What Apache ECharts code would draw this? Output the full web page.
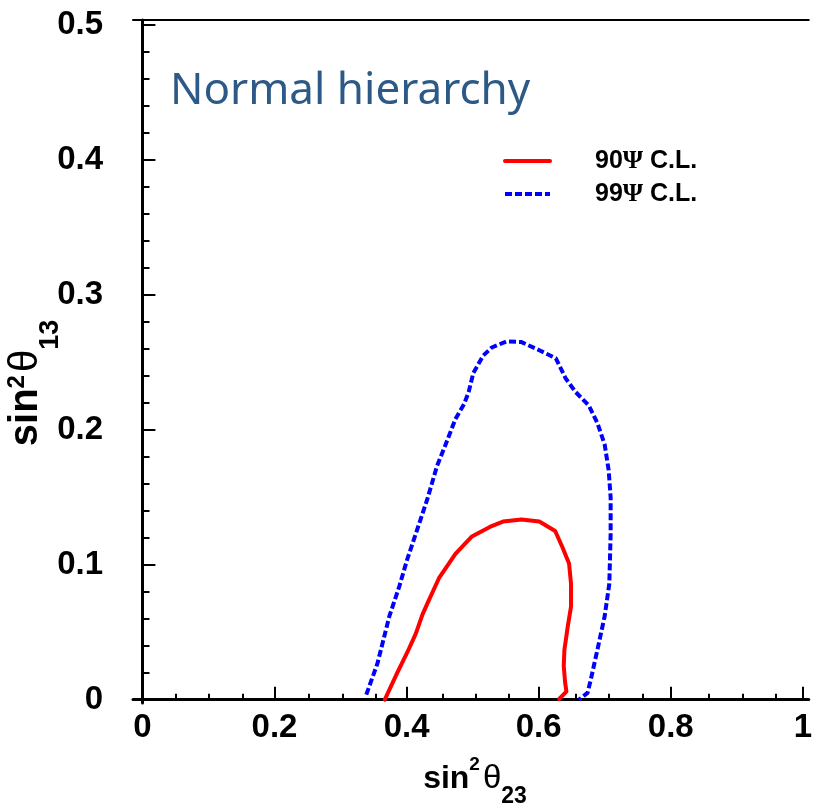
<!DOCTYPE html>
<html>
<head>
<meta charset="utf-8">
<script src="https://cdn.jsdelivr.net/npm/echarts@6/dist/echarts.min.js"></script>
<style>
html,body{margin:0;padding:0;background:#fff;}
#chart{width:815px;height:806px;}
</style>
</head>
<body>
<div id="chart"></div>
<script>
// ---- data ----
const cl90_x = [0.367,0.386,0.401,0.414,0.424,0.434,0.449,0.474,0.499,0.526,0.546,0.574,0.601,0.625,0.636,0.646,0.649,0.649,0.644,0.639,0.638,0.640,0.642,0.631];
const cl90_y = [0.000,0.020,0.035,0.049,0.063,0.074,0.090,0.108,0.121,0.128,0.132,0.1336,0.132,0.125,0.113,0.101,0.086,0.069,0.054,0.037,0.025,0.013,0.006,0.0005];
const cl99_x = [0.339,0.356,0.374,0.389,0.401,0.414,0.431,0.446,0.459,0.474,0.487,0.494,0.501,0.516,0.529,0.551,0.574,0.601,0.626,0.641,0.656,0.676,0.689,0.700,0.706,0.709,0.709,0.709,0.707,0.700,0.689,0.679,0.674,0.661];
const cl99_y = [0.0037,0.027,0.062,0.084,0.104,0.123,0.148,0.173,0.189,0.208,0.219,0.228,0.242,0.255,0.261,0.2655,0.265,0.259,0.253,0.238,0.228,0.218,0.205,0.189,0.170,0.150,0.128,0.123,0.086,0.062,0.037,0.015,0.005,0.000];
const seriesNames = ['90\u03A8 C.L.', '99\u03A8 C.L.'];
const xMajorTicks = [0, 0.2, 0.4, 0.6, 0.8, 1];
const xMinorTicks = [0.05,0.1,0.15,0.25,0.3,0.35,0.45,0.5,0.55,0.65,0.7,0.75,0.85,0.9,0.95];
const yMajorTicks = [0, 0.1, 0.2, 0.3, 0.4, 0.5];
const yMinorTicks = [0.02,0.04,0.06,0.08,0.12,0.14,0.16,0.18,0.22,0.24,0.26,0.28,0.32,0.34,0.36,0.38,0.42,0.44,0.46,0.48];
const panelLabel = 'Normal hierarchy';
const xTitleParts = ['sin', '2', '\u03B8', '23'];
const yTitleParts = ['sin', '2', '\u03B8', '13'];

const X_MIN = -0.01425, X_MAX = 1.009;
const Y_MIN = -0.00245, Y_MAX = 0.5037;

function pairs(xs, ys){ return xs.map((x,i)=>[x, ys[i]]); }

// build a "sin^2 theta_ij" label from separate text pieces laid end to end
const measureCtx = document.createElement('canvas').getContext('2d');
const MID = 0.3465; // distance of the 'middle' text baseline above the alphabetic baseline, in em
function mathLabel(parts, fmt){
  let cursor = 0;
  const items = parts.map((t, i) => {
    const f = fmt[i];
    measureCtx.font = f.weight + ' ' + f.size + 'px "Liberation Sans"';
    const w = measureCtx.measureText(t).width;
    const it = {t, f, x: cursor + (f.gap || 0)};
    cursor = it.x + w;
    return it;
  });
  const W = cursor;
  return items.map(it => ({
    type:'text', silent:true,
    x: it.x - W/2, y: it.f.dy - MID * it.f.size,
    style:{text:it.t, fontFamily:'Liberation Sans', fontWeight:it.f.weight, fontSize:it.f.size,
           fill:'#000', align:'left', verticalAlign:'middle'}
  }));
}

const chart = echarts.init(document.getElementById('chart'), null, {renderer:'canvas'});
const GRID = {left:133, top:20, right:0, bottom:103};
const labelFont = {fontFamily:'Liberation Sans', fontWeight:'bold', fontSize:33, color:'#000'};

const option = {
  backgroundColor:'#fff',
  animation:false,
  grid:[Object.assign({}, GRID), Object.assign({}, GRID)],
  xAxis:[
    {type:'value', gridIndex:0, position:'bottom', min:X_MIN, max:X_MAX,
     axisLine:{show:true, lineStyle:{color:'#000', width:3}},
     axisTick:{show:true, inside:true, length:13, customValues:xMajorTicks, lineStyle:{color:'#000', width:2}},
     axisLabel:Object.assign({show:true, customValues:xMajorTicks, margin:8}, labelFont),
     splitLine:{show:false}},
    {type:'value', gridIndex:0, position:'top', min:X_MIN, max:X_MAX,
     axisLine:{show:true, lineStyle:{color:'#000', width:2}},
     axisTick:{show:false}, axisLabel:{show:false}, splitLine:{show:false}},
    {type:'value', gridIndex:1, position:'bottom', min:X_MIN, max:X_MAX,
     axisLine:{show:false},
     axisTick:{show:true, inside:true, length:6, customValues:xMinorTicks, lineStyle:{color:'#000', width:2}},
     axisLabel:{show:false}, splitLine:{show:false}}
  ],
  yAxis:[
    {type:'value', gridIndex:0, position:'left', min:Y_MIN, max:Y_MAX,
     axisLine:{show:true, lineStyle:{color:'#000', width:3}},
     axisTick:{show:true, inside:true, length:13, customValues:yMajorTicks, lineStyle:{color:'#000', width:2}},
     axisLabel:Object.assign({show:true, customValues:yMajorTicks, margin:30}, labelFont),
     splitLine:{show:false}},
    {type:'value', gridIndex:1, position:'left', min:Y_MIN, max:Y_MAX,
     axisLine:{show:false},
     axisTick:{show:true, inside:true, length:7, customValues:yMinorTicks, lineStyle:{color:'#000', width:2}},
     axisLabel:{show:false}, splitLine:{show:false}}
  ],
  legend:{
    orient:'vertical', left:498, top:143, itemWidth:45, itemHeight:14, itemGap:7,
    data:seriesNames,
    itemStyle:{opacity:0},
    lineStyle:{width:4},
    formatter:function(name){ return name.replace('\u03A8','{p|\u03A8}'); },
    textStyle:{fontFamily:'Liberation Sans', fontWeight:'bold', fontSize:25, color:'#000', padding:[0,0,0,40],
      rich:{p:{fontFamily:'Liberation Serif', fontWeight:'bold', fontSize:26, color:'#000'}}}
  },
  series:[
    {name:seriesNames[0], type:'line', xAxisIndex:0, yAxisIndex:0, data:pairs(cl90_x, cl90_y),
     symbol:'none', smooth:false, clip:false,
     lineStyle:{color:'#ff0000', width:4, cap:'round', join:'round'}, itemStyle:{color:'#ff0000'}},
    {name:seriesNames[1], type:'line', xAxisIndex:0, yAxisIndex:0, data:pairs(cl99_x, cl99_y),
     symbol:'none', smooth:false, clip:false,
     lineStyle:{color:'#0000ff', width:4, type:[7,3], cap:'butt', join:'round'}, itemStyle:{color:'#0000ff'}}
  ],
  graphic:[
    {type:'text', left:170, top:69, silent:true,
     style:{text:panelLabel, fontFamily:'Noto Sans', fontSize:44, fill:'#2d5986'}},
    {type:'group', x:475, y:790, silent:true,
     children: mathLabel(xTitleParts, [
       {size:32, weight:'bold', dy:0},
       {size:19, weight:'bold', dy:-19},
       {size:33, weight:'normal', dy:0, gap:3},
       {size:23, weight:'bold', dy:15}
     ])},
    {type:'group', x:40, y:383, rotation:Math.PI/2, silent:true,
     children: mathLabel(yTitleParts, [
       {size:40, weight:'bold', dy:0},
       {size:24, weight:'bold', dy:-14},
       {size:40, weight:'normal', dy:0, gap:3},
       {size:27, weight:'bold', dy:20}
     ])}
  ]
};
chart.setOption(option);
</script>
</body>
</html>
